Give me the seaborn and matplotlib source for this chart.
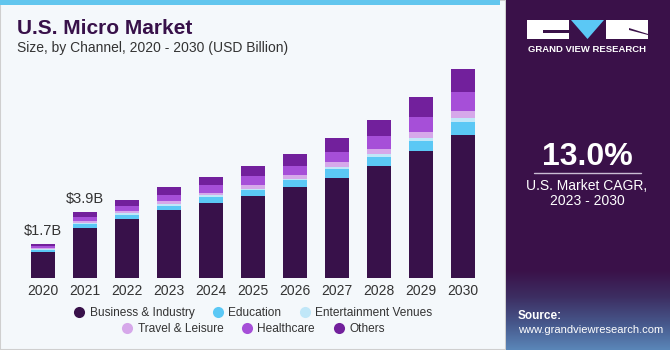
import numpy as np
import pandas as pd
import seaborn as sns
import matplotlib.pyplot as plt
from matplotlib.lines import Line2D
from matplotlib.patches import Rectangle, Polygon
from matplotlib.colors import LinearSegmentedColormap

# data (USD billion)
years = ['2020', '2021', '2022', '2023', '2024', '2025', '2026', '2027', '2028', '2029', '2030']
business = [1.32, 2.52, 2.95, 3.40, 3.75, 4.08, 4.53, 5.00, 5.58, 6.33, 7.17]
education = [0.08, 0.18, 0.20, 0.22, 0.28, 0.30, 0.35, 0.45, 0.47, 0.54, 0.64]
entertainment = [0.03, 0.07, 0.08, 0.07, 0.10, 0.09, 0.09, 0.10, 0.13, 0.15, 0.20]
travel = [0.07, 0.09, 0.12, 0.17, 0.12, 0.20, 0.20, 0.23, 0.27, 0.30, 0.35]
healthcare = [0.08, 0.17, 0.27, 0.30, 0.38, 0.42, 0.45, 0.52, 0.67, 0.75, 0.92]
others = [0.12, 0.27, 0.27, 0.37, 0.42, 0.53, 0.60, 0.70, 0.80, 1.00, 1.15]
series_names = ['Business & Industry', 'Education', 'Entertainment Venues',
                'Travel & Leisure', 'Healthcare', 'Others']
bar_labels = {'2020': '$1.7B', '2021': '$3.9B'}

colors = ['#38114a', '#5bc8f5', '#c0e7f8', '#d6a8ea', '#a64fd8', '#72209c']

df = pd.DataFrame({'year': years, 'Business & Industry': business, 'Education': education,
                   'Entertainment Venues': entertainment, 'Travel & Leisure': travel,
                   'Healthcare': healthcare, 'Others': others})
cum = df[series_names].cumsum(axis=1)

sns.set_style("white")
plt.rcParams['font.family'] = ['Liberation Sans', 'DejaVu Sans']

fig = plt.figure(figsize=(6.7, 3.5), dpi=100)
W, H = 670, 350

# background panels
bg = fig.add_axes([0, 0, 1, 1])
bg.axis('off')
bg.add_patch(Rectangle((0, 0), 506, H, facecolor='#f4f8fb', edgecolor='#cfcfcf', lw=1.5))
bg.add_patch(Rectangle((0, 0), 500, 4.5, facecolor='#62c6ee', edgecolor='none'))
bg.add_patch(Rectangle((506, 0), W - 506, H, facecolor='#3a1149', edgecolor='none'))
# faint bluish gradient at bottom of the side panel
grad = np.linspace(0, 1, 100).reshape(-1, 1)
cmap = LinearSegmentedColormap.from_list('g', ['#3a1149', '#3d2e62', '#46568a', '#5a86b8'])
bg.imshow(grad, extent=(506, W, H, 270), cmap=cmap, aspect='auto', zorder=1, origin='upper')
bg.set_xlim(0, W)
bg.set_ylim(H, 0)

# logo
bg.add_patch(Rectangle((527, 20), 42, 19, facecolor='white', edgecolor='none', zorder=2))
bg.add_patch(Rectangle((543, 30), 26, 3, facecolor='#3a1149', edgecolor='none', zorder=3))
bg.add_patch(Polygon([(571, 20), (604, 20), (587.5, 39)], facecolor='#5bc8f5', edgecolor='none', zorder=2))
bg.add_patch(Rectangle((606, 20), 42, 19, facecolor='white', edgecolor='none', zorder=2))
bg.add_patch(Polygon([(629, 28), (648, 34), (648, 35), (629, 30)], facecolor='#3a1149', edgecolor='none', zorder=3))
bg.text(587, 50, 'GRAND VIEW RESEARCH', color='white', fontsize=6.8, fontweight='bold',
        ha='center', va='center', zorder=3)

bg.text(587, 157, '13.0%', color='white', fontsize=23, fontweight='bold', ha='center', va='center')
bg.plot([534, 641], [173, 173], color='#c9bcd3', lw=1)
bg.text(587, 186, 'U.S. Market CAGR,', color='white', fontsize=10, ha='center', va='center')
bg.text(587, 201, '2023 - 2030', color='white', fontsize=10, ha='center', va='center')
bg.text(518, 316, 'Source:', color='white', fontsize=8.5, fontweight='bold', ha='left', va='center', zorder=3)
bg.text(518, 330, 'www.grandviewresearch.com', color='white', fontsize=8, ha='left', va='center', zorder=3)

bg.text(17, 28, 'U.S. Micro Market', color='#38114a', fontsize=15, fontweight='bold', ha='left', va='center')
bg.text(17, 48, 'Size, by Channel, 2020 - 2030 (USD Billion)', color='#333333', fontsize=10,
        ha='left', va='center')

# chart
ax = fig.add_axes([22 / W, (H - 278) / H, 462 / W, 220 / H])
ax.patch.set_alpha(0)
for name, c in reversed(list(zip(series_names, colors))):
    sns.barplot(x=df['year'], y=cum[name], color=c, width=0.57, saturation=1,
                edgecolor='none', ax=ax)
ax.set_ylim(0, 11)
ax.set_xlim(-0.5, 10.5)
ax.set_xlabel('')
ax.set_ylabel('')
ax.set_yticks([])
sns.despine(ax=ax, left=True, bottom=True)
ax.tick_params(axis='x', length=0, pad=4, labelsize=10, labelcolor='#333333')

totals = cum['Others'].values
for i, y in enumerate(years):
    if y in bar_labels:
        ax.text(i, totals[i] + 0.3, bar_labels[y], ha='center', va='bottom',
                fontsize=10.5, color='#333333')

# legend in two centred rows
def handle(c):
    return Line2D([0], [0], marker='o', color='none', markerfacecolor=c,
                  markeredgecolor='none', markersize=8)

leg_kw = dict(ncol=3, loc='center', frameon=False, fontsize=8.6, handlelength=1,
              handletextpad=0.35, columnspacing=1.5, labelcolor='#333333')
fig.legend([handle(c) for c in colors[:3]], series_names[:3],
           bbox_to_anchor=(253 / W, 1 - 313 / H), **leg_kw)
fig.legend([handle(c) for c in colors[3:]], series_names[3:],
           bbox_to_anchor=(253 / W, 1 - 329 / H), **leg_kw)

fig.savefig('out.png', dpi=100)
